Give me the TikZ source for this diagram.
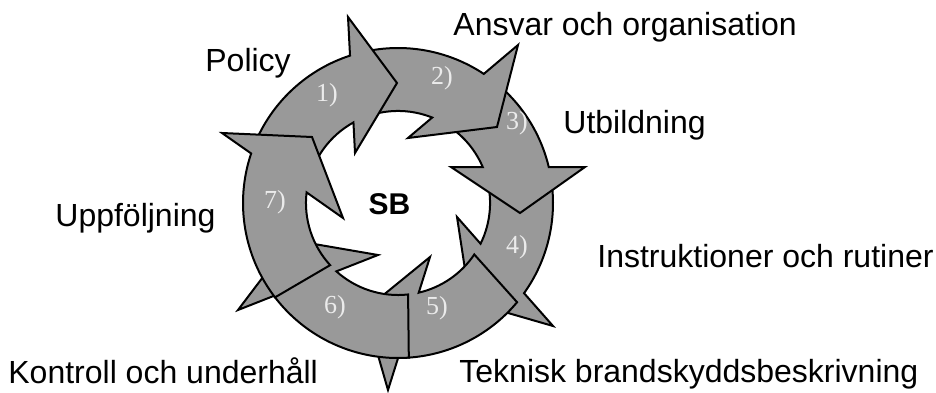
\documentclass[tikz,border=0pt]{standalone}
\usepackage{fontspec}
\setmainfont{Liberation Sans}
\newfontfamily\numfont{Liberation Serif}
\usetikzlibrary{intersections,calc}
\definecolor{bandgray}{gray}{0.6}
\newcommand\cycarrow[3]{%
  \filldraw[arrowpart] let \p1=($(Ao#1)-(C)$), \p2=($(Ai#1)-(C)$),
    \n1={atan2(\y1,\x1)}, \n2={atan2(\y2,\x2)} in
    ($(C)+(#2:\Ro)$) arc[start angle=#2, end angle=\n1, radius=\Ro]
    -- (O#1) -- (T#1) -- (I#1) -- (Ai#1)
    arc[start angle=\n2, end angle=#3, radius=\Ri] -- cycle;}
\begin{document}
\begin{tikzpicture}[x=0.5pt,y=0.5pt,
  arrowpart/.style={fill=bandgray, draw=black, line width=1pt, line join=miter},
  lbl/.style={anchor=base west, inner sep=0pt, font=\fontsize{16}{19}\selectfont},
  num/.style={text=white!92!black, inner sep=0pt, font=\numfont\fontsize{13}{15}\selectfont}]
\useasboundingbox (0,0) rectangle (936,392);
\def\Ro{155}\def\Ri{92}
\coordinate (C) at (398,189);
% head corners: outer O, tip T, inner I
\coordinate (O1) at (348,375); \coordinate (T1) at (397,309); \coordinate (I1) at (355,239);
\coordinate (O2) at (518,347); \coordinate (T2) at (497,265); \coordinate (I2) at (408,254);
\coordinate (O3) at (585,225); \coordinate (T3) at (520,179); \coordinate (I3) at (451,225);
\coordinate (O4) at (553,66);  \coordinate (T4) at (470,90);  \coordinate (I4) at (457,175);
\coordinate (O5) at (388,2);   \coordinate (T5) at (365,82);  \coordinate (I5) at (430,135);
\coordinate (O6) at (238,82);  \coordinate (T6) at (291,152); \coordinate (I6) at (378,137);
\coordinate (O7) at (222,259); \coordinate (T7) at (312,255); \coordinate (I7) at (343,174);
\path[name path=co] (C) circle[radius=\Ro];
\path[name path=ci] (C) circle[radius=\Ri];
\foreach \k in {1,...,7}{
  \path[name path=basel] (O\k) -- (I\k);
  \path[name intersections={of=basel and co, by={Ao\k}}];
  \path[name intersections={of=basel and ci, by={Ai\k}}];
}
% drawing order gives the weaving of heads and tails
\cycarrow{4}{8.4}{18}
\cycarrow{5}{-39.8}{-34}
\cycarrow{6}{-86}{-83.7}
\cycarrow{3}{51.4}{63.2}
\cycarrow{2}{102.85}{113.7}
\cycarrow{1}{156.4}{168.4}
\cycarrow{7}{217.5}{222.5}
% numbers
\node[num] (n1) at (327,297) {1)};
\node[num] (n2) at (442,314) {2)};
\node[num] (n3) at (517,269) {3)};
\node[num] (n4) at (517,145) {4)};
\node[num] (n5) at (437,84) {5)};
\node[num] (n6) at (335,85) {6)};
\node[num] (n7) at (275,190) {7)};
% labels
\node[font=\fontsize{15}{18}\selectfont\bfseries] (sb) at (389.5,188) {SB};
\node[lbl] (policy) at (205,321) {Policy};
\node[lbl] (ansvar) at (453,357) {Ansvar och organisation};
\node[lbl] (utb) at (563,259) {Utbildning};
\node[lbl] (instr) at (597,125) {Instruktioner och rutiner};
\node[lbl] (uppf) at (55,166) {Uppföljning};
\node[lbl] (kontr) at (8,9) {Kontroll och underhåll};
\node[lbl] (tekn) at (459,10) {Teknisk brandskyddsbeskrivning};
\end{tikzpicture}
\end{document}
